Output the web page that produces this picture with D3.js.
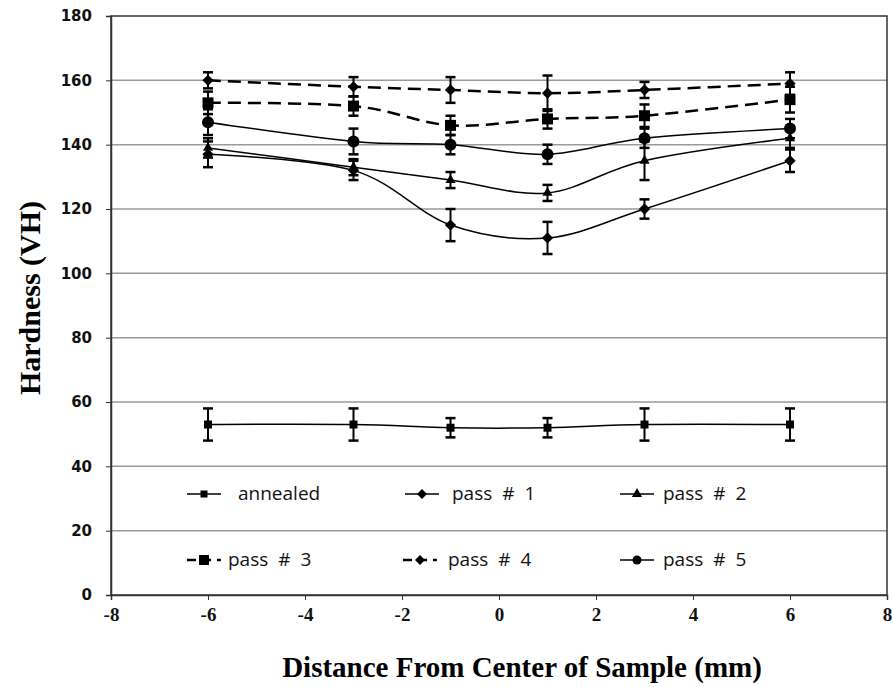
<!DOCTYPE html>
<html>
<head>
<meta charset="utf-8">
<script src="https://cdn.jsdelivr.net/npm/d3@7"></script>
<style>
  body { margin: 0; background: #fff; }
  svg { display: block; }
</style>
</head>
<body>
<div id="chart"></div>
<script>
// distance from center (mm)
const positions = [-6, -3, -1, 1, 3, 6];

const annealed = [53, 53, 52, 52, 53, 53];
const annealedErr = [5, 5, 3, 3, 5, 5];
const pass1 = [137, 132, 115, 111, 120, 135];
const pass1Err = [4, 3, 5, 5, 3, 3.5];
const pass2 = [139, 133, 129, 125, 135, 142];
const pass2Err = [3, 2.5, 2.5, 2.5, 6, 3];
const pass3 = [153, 152, 146, 148, 149, 154];
const pass3Err = [3.5, 3, 3, 3, 3.5, 4];
const pass4 = [160, 158, 157, 156, 157, 159];
const pass4Err = [2.5, 3, 4, 5.5, 2.5, 3.5];
const pass5 = [147, 141, 140, 137, 142, 145];
const pass5Err = [4, 4, 3, 3, 3, 3];

const seriesNames = ["annealed", "pass # 1", "pass # 2", "pass # 3", "pass # 4", "pass # 5"];
const xTicks = [-8, -6, -4, -2, 0, 2, 4, 6, 8];
const yTicks = [0, 20, 40, 60, 80, 100, 120, 140, 160, 180];

const series = [
  {name: seriesNames[0], values: annealed, err: annealedErr, symbol: "square", size: 8, legSize: 7, dash: null, width: 1.5},
  {name: seriesNames[1], values: pass1, err: pass1Err, symbol: "diamond", size: 9, legSize: 8, dash: null, width: 1.5},
  {name: seriesNames[2], values: pass2, err: pass2Err, symbol: "triangle", size: 10, legSize: 10, dash: null, width: 1.5},
  {name: seriesNames[3], values: pass3, err: pass3Err, symbol: "square", size: 11, legSize: 10, dash: "13,7", width: 2.5},
  {name: seriesNames[4], values: pass4, err: pass4Err, symbol: "diamond", size: 9, legSize: 8, dash: "13,7", width: 2.5},
  {name: seriesNames[5], values: pass5, err: pass5Err, symbol: "circle", size: 12, legSize: 9, dash: null, width: 1.5}
];

const W = 893, H = 687;
const plot = {left: 111, right: 887, top: 16, bottom: 595};

const svg = d3.select("#chart").append("svg")
  .attr("width", W)
  .attr("height", H);

const x = d3.scaleLinear().domain([-8, 8]).range([plot.left, plot.right]);
const y = d3.scaleLinear().domain([0, 180]).range([plot.bottom, plot.top]);

// gridlines
svg.append("g")
  .selectAll("line")
  .data(yTicks.filter(t => t > 0 && t < 180))
  .enter().append("line")
  .attr("x1", plot.left).attr("x2", plot.right)
  .attr("y1", d => y(d)).attr("y2", d => y(d))
  .style("stroke", "#9a9a9a")
  .style("stroke-width", 1.5);

// plot frame
svg.append("rect")
  .attr("x", plot.left).attr("y", plot.top)
  .attr("width", plot.right - plot.left)
  .attr("height", plot.bottom - plot.top)
  .style("fill", "none")
  .style("stroke", "#333")
  .style("stroke-width", 1.5);

// axes
const yAxis = svg.append("g")
  .attr("transform", `translate(${plot.left},0)`)
  .call(d3.axisLeft(y).tickValues(yTicks).tickSize(5).tickPadding(14).tickFormat(d => d));
yAxis.select(".domain").style("stroke", "#333").style("stroke-width", 1.5);
yAxis.selectAll("line").style("stroke", "#333");
yAxis.selectAll("text")
  .style("font-family", "'DejaVu Sans', Verdana, sans-serif")
  .style("font-weight", "bold")
  .style("font-size", "15px")
  .style("fill", "#111");

const xAxis = svg.append("g")
  .attr("transform", `translate(0,${plot.bottom})`)
  .call(d3.axisBottom(x).tickValues(xTicks).tickSize(5).tickPadding(8).tickFormat(d => d));
xAxis.select(".domain").style("stroke", "#333").style("stroke-width", 1.5);
xAxis.selectAll("line").style("stroke", "#333");
xAxis.selectAll("text")
  .style("font-family", "'Liberation Serif', 'Times New Roman', serif")
  .style("font-weight", "bold")
  .style("font-size", "19px")
  .style("fill", "#111");

// axis titles
svg.append("text")
  .attr("x", 522).attr("y", 677)
  .attr("text-anchor", "middle")
  .style("font-family", "'Liberation Serif', 'Times New Roman', serif")
  .style("font-weight", "bold")
  .style("font-size", "29px")
  .text("Distance From Center of Sample (mm)");

svg.append("text")
  .attr("transform", "translate(40,298) rotate(-90)")
  .attr("text-anchor", "middle")
  .style("font-family", "'Liberation Serif', 'Times New Roman', serif")
  .style("font-weight", "bold")
  .style("font-size", "30px")
  .text("Hardness (VH)");

const symbolTypes = {
  square: d3.symbolSquare,
  diamond: d3.symbolDiamond2,
  triangle: d3.symbolTriangle,
  circle: d3.symbolCircle
};

function symbolPath(s, size) {
  // size is approx pixel width
  const area = s.symbol === "circle" ? Math.PI * (size / 2) * (size / 2)
    : s.symbol === "triangle" ? size * size * 0.45
    : size * size;
  return d3.symbol().type(symbolTypes[s.symbol]).size(area)();
}

const line = d3.line()
  .x(d => x(d.x))
  .y(d => y(d.y))
  .curve(d3.curveCatmullRom.alpha(0));

const seriesG = svg.append("g");

series.forEach(s => {
  const pts = positions.map((p, i) => ({x: p, y: s.values[i], e: s.err[i]}));
  const g = seriesG.append("g");

  g.append("path")
    .datum(pts)
    .attr("d", line)
    .style("fill", "none")
    .style("stroke", "#000")
    .style("stroke-width", s.width)
    .style("stroke-dasharray", s.dash);

  // error bars
  const eb = g.selectAll(".err").data(pts).enter().append("g");
  eb.append("line")
    .attr("x1", d => x(d.x)).attr("x2", d => x(d.x))
    .attr("y1", d => y(d.y - d.e)).attr("y2", d => y(d.y + d.e))
    .style("stroke", "#000").style("stroke-width", 2);
  [-1, 1].forEach(sign => {
    eb.append("line")
      .attr("x1", d => x(d.x) - 5).attr("x2", d => x(d.x) + 5)
      .attr("y1", d => y(d.y + sign * d.e)).attr("y2", d => y(d.y + sign * d.e))
      .style("stroke", "#000").style("stroke-width", 2.5);
  });

  g.selectAll(".pt").data(pts).enter().append("path")
    .attr("transform", d => `translate(${x(d.x)},${y(d.y)})`)
    .attr("d", symbolPath(s, s.size))
    .style("fill", "#000");
});

// legend
const legendPos = [
  {lx: 187, tx: 238, ly: 494},
  {lx: 405, tx: 452, ly: 494},
  {lx: 620, tx: 663, ly: 494},
  {lx: 187, tx: 228, ly: 560},
  {lx: 403, tx: 448, ly: 560},
  {lx: 620, tx: 663, ly: 560}
];

series.forEach((s, i) => {
  const p = legendPos[i];
  const g = svg.append("g");
  const len = 34;
  g.append("line")
    .attr("x1", p.lx).attr("x2", p.lx + len)
    .attr("y1", p.ly).attr("y2", p.ly)
    .style("stroke", "#000")
    .style("stroke-width", s.dash ? 2.5 : 1.5)
    .style("stroke-dasharray", s.dash ? "9,6" : null);
  g.append("path")
    .attr("transform", `translate(${p.lx + len / 2},${p.ly})`)
    .attr("d", symbolPath(s, s.legSize))
    .style("fill", "#000");
  g.append("text")
    .attr("x", p.tx).attr("y", p.ly + 6)
    .style("font-family", "'Open Sans', 'Noto Sans', sans-serif")
    .style("font-size", "19px")
    .style("word-spacing", "5px")
    .style("fill", "#111")
    .text(s.name);
});
</script>
</body>
</html>
